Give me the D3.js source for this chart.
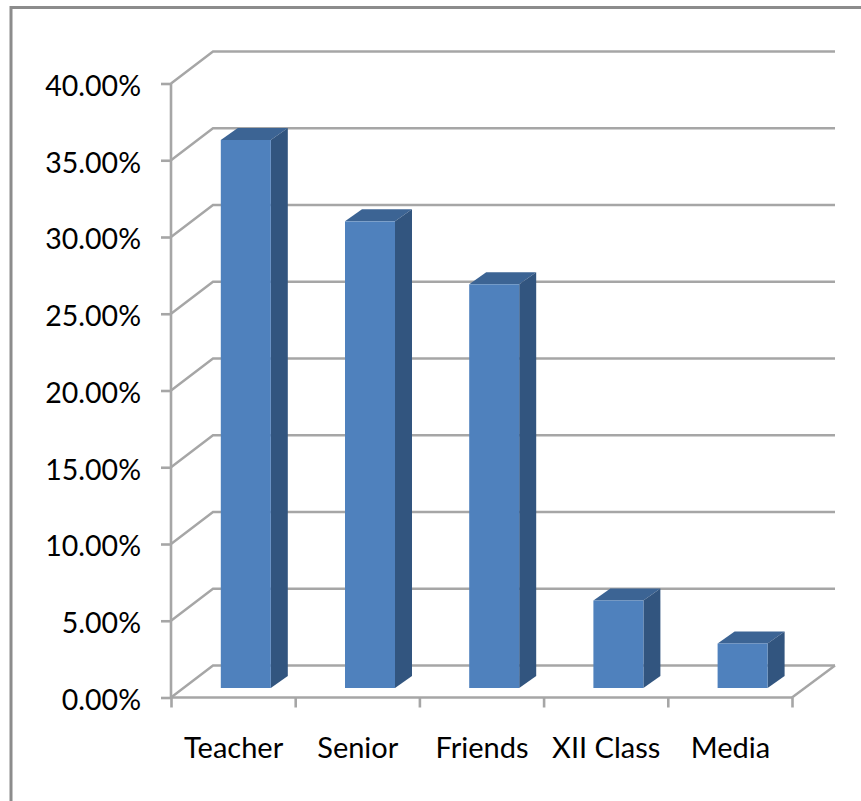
<!DOCTYPE html>
<html><head><meta charset="utf-8">
<script src="https://cdn.jsdelivr.net/npm/d3@7"></script>
<style>html,body{margin:0;padding:0;background:#fff}svg{display:block}text{font-family:Lato,"Open Sans",sans-serif;fill:#000}</style>
</head><body><svg id="c" width="861" height="801"></svg>
<script>
const categories = ["Teacher","Senior","Friends","XII Class","Media"];
const values = [35.7,30.4,26.3,5.7,2.9];
const yTicks = [0,5,10,15,20,25,30,35,40];

const svg = d3.select("#c");
svg.append("path").attr("d",`M861,7.5H11V801`).attr("fill","none").attr("stroke","#8c8c8c").attr("stroke-width",3);

const x = d3.scaleBand().domain(categories).range([171,792]).paddingInner(0).paddingOuter(0);
const y = d3.scaleLinear().domain([0,40]).range([697.5,83.5]);
const backDx=42, backDy=-32, barDx=17, barDy=-12, barW=50, baseDx=12.7, baseDy=-9.5;
const grid="#a6a6a6";

const g = svg.append("g");
g.selectAll("path.grid").data(yTicks).join("path").attr("class","grid")
 .attr("d",d=>`M${x.range()[0]},${y(d)}l${backDx},${backDy}H835`)
 .attr("fill","none").attr("stroke",grid).attr("stroke-width",2.4);
g.append("path").attr("d",`M${x.range()[1]},${y(0)}L835,${y(0)+backDy}`).attr("fill","none").attr("stroke",grid).attr("stroke-width",2.4);

const yAxis = d3.axisLeft(y).tickValues(yTicks).tickSize(10).tickPadding(20).tickFormat(d=>d.toFixed(2)+"%");
const ya = svg.append("g").attr("transform",`translate(${x.range()[0]},0)`).call(yAxis);
const xTickVals = categories.map(c=>x(c)).concat([x.range()[1]]);
const xa = svg.append("g").attr("transform",`translate(0,${y(0)})`)
 .call(d3.axisBottom(d3.scaleLinear().domain(x.range()).range(x.range())).tickValues(xTickVals).tickSize(10).tickFormat(""));
[ya,xa].forEach(a=>{a.selectAll("path,line").attr("stroke",grid).attr("stroke-width",2.6);a.select(".domain").attr("d",a===ya?`M0,${y(40)}V${y(0)+1}`:`M${x.range()[0]},0H${x.range()[1]}`);});
ya.selectAll("text").attr("font-size",28.5).attr("fill","#000").attr("dy","0.42em").style("font-family",'Lato,"Open Sans",sans-serif');

svg.selectAll("text.cat").data(categories).join("text").attr("class","cat")
 .attr("x",d=>x(d)+x.bandwidth()/2+0.5).attr("y",758).attr("text-anchor","middle").attr("font-size",29).text(d=>d);

const bars = svg.append("g").selectAll("g").data(categories.map((c,i)=>({c,v:values[i]}))).join("g")
 .attr("transform",d=>`translate(${x(d.c)+x.bandwidth()/2-barW/2+baseDx},${baseDy})`);
bars.append("path").attr("fill","#3c6494")
 .attr("d",d=>`M0,${y(d.v)}l${barDx},${barDy}h${barW}l${-barDx},${-barDy}z`);
bars.append("path").attr("fill","#32557f")
 .attr("d",d=>`M${barW},${y(d.v)}l${barDx},${barDy}V${y(0)+barDy}l${-barDx},${-barDy}z`);
bars.append("rect").attr("fill","#4f81bd").attr("x",0).attr("width",barW)
 .attr("y",d=>y(d.v)).attr("height",d=>y(0)-y(d.v));
</script></body></html>
